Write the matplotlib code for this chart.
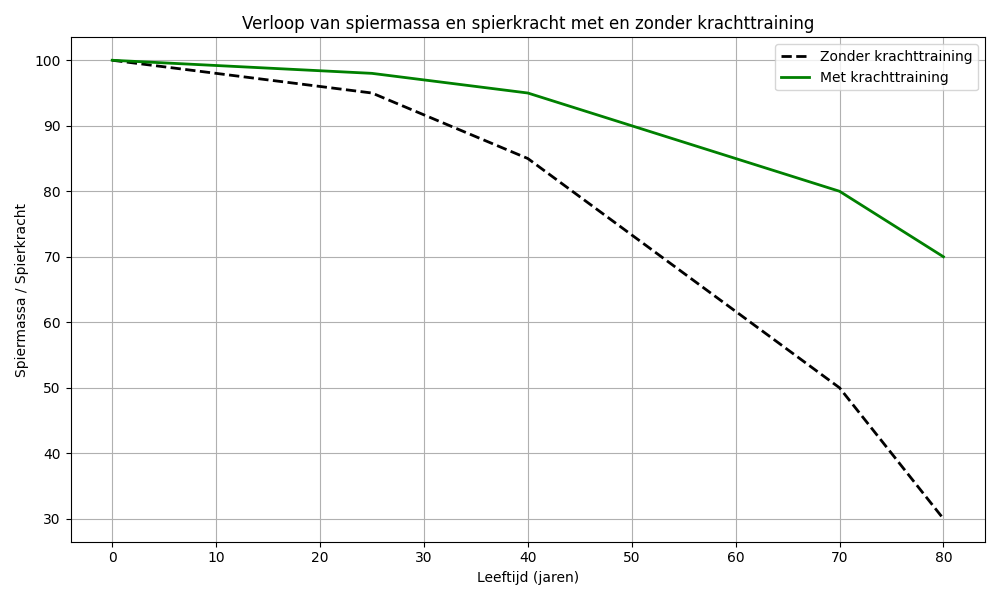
import numpy as np
import matplotlib
matplotlib.use('Agg')
import matplotlib.pyplot as plt

# Leeftijden en waarden
leeftijd = [0, 25, 40, 70, 80]
zonder_training = [100, 95, 85, 50, 30]
met_training = [100, 98, 95, 80, 70]

fig, ax = plt.subplots(figsize=(10, 6), dpi=100)
ax.plot(leeftijd, zonder_training, '--', color='black', linewidth=2, label='Zonder krachttraining')
ax.plot(leeftijd, met_training, '-', color='green', linewidth=2, label='Met krachttraining')

ax.set_xlabel('Leeftijd (jaren)')
ax.set_ylabel('Spiermassa / Spierkracht')
ax.set_title('Verloop van spiermassa en spierkracht met en zonder krachttraining')
ax.legend()
ax.grid(True)

plt.tight_layout()
plt.savefig('out.png')
